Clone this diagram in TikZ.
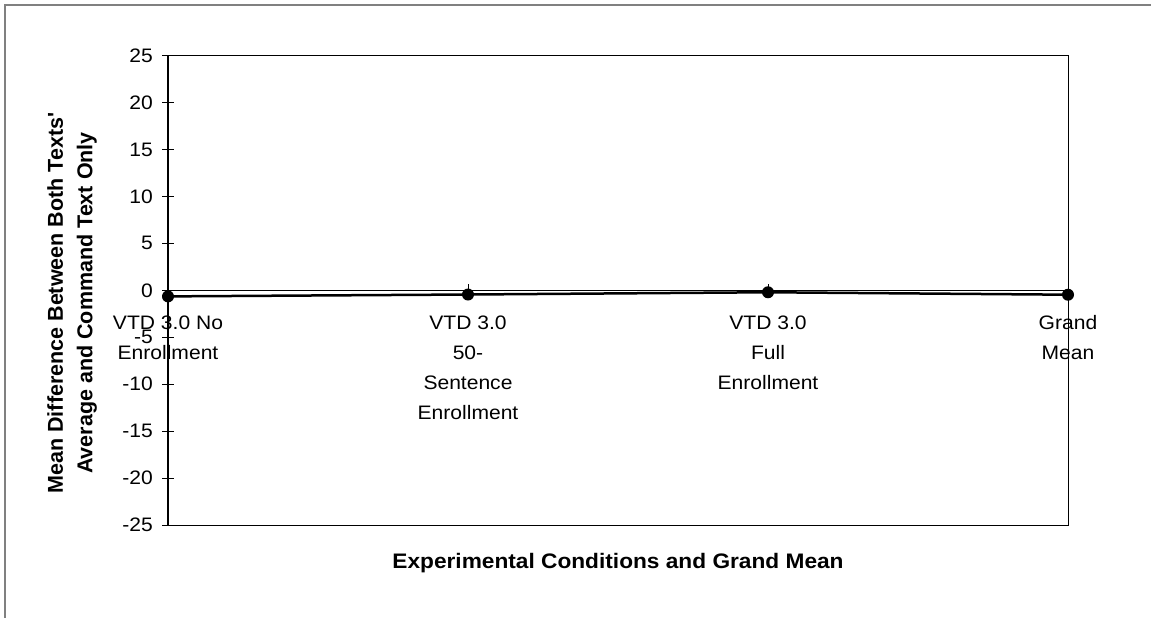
\documentclass[tikz,border=0pt]{standalone}
\usepackage{fontspec}
\setmainfont[FakeStretch=1.08]{Liberation Sans}
\newfontfamily\uprightsans{Liberation Sans}
\begin{document}
\begin{tikzpicture}[x=1pt,y=1pt,
  every node/.style={inner sep=0pt},
  ticklabel/.style={anchor=east, font=\fontsize{19.5}{30}\selectfont},
  catlabel/.style={anchor=north, align=center, font=\fontsize{19.5}{30}\selectfont},
  axistitle/.style={align=center, font=\fontsize{21}{30}\selectfont\bfseries},
  datapt/.style={circle, fill=black, minimum size=12pt, inner sep=0pt},
  frameline/.style={draw=black!50, line width=2pt},
  plotframe/.style={draw=black, line width=1pt},
  serieslinestyle/.style={draw=black, line width=2.5pt, line join=round}
]
\useasboundingbox (0,0) rectangle (1151,618);
% outer chart frame
\draw[frameline] (5,0) -- (5,613) -- (1151,613);

\begin{scope}[shift={(168,327.7)}, x=300pt, y=9.39pt]
  % plot area and axes
  \draw[plotframe] (0,-25) rectangle (3,25);
  \draw[line width=1.3pt] (0,-25) -- (0,25);
  \draw[line width=0.9pt] (0,0) -- (3,0);
  \foreach \v [count=\i] in {-25,-20,...,25} {
    \draw[line width=0.9pt] (0,\v) ++(-6pt,0) -- ++(12pt,0);
    \node[ticklabel] (ylab\i) at ([xshift=-15pt]0,\v) {\v};
  }
  \foreach \c in {1,2} {
    \draw[line width=0.9pt] (\c,0) ++(0,-6pt) -- ++(0,12pt);
  }
  % category labels
  \node[catlabel] (cat0) at ([yshift=-25pt]0,0) {VTD 3.0 No\\Enrollment};
  \node[catlabel] (cat1) at ([yshift=-25pt]1,0) {VTD 3.0\\50-\\Sentence\\Enrollment};
  \node[catlabel] (cat2) at ([yshift=-25pt]2,0) {VTD 3.0\\Full\\Enrollment};
  \node[catlabel] (cat3) at ([yshift=-25pt]3,0) {Grand\\Mean};
  % data series
  \node[datapt] (p0) at (0,-0.65) {};
  \node[datapt] (p1) at (1,-0.45) {};
  \node[datapt] (p2) at (2,-0.21) {};
  \node[datapt] (p3) at (3,-0.47) {};
  \draw[serieslinestyle] (p0.center) -- (p1.center) -- (p2.center) -- (p3.center);
\end{scope}

% axis titles
\node[axistitle, font=\fontsize{21.5}{29.5}\selectfont\uprightsans\bfseries, rotate=90] (ytitle) at (72,315)
  {Mean Difference Between Both Texts\textquotesingle\\Average and Command Text Only};
\node[axistitle, anchor=base] (xtitle) at (618,49) {Experimental Conditions and Grand Mean};
\end{tikzpicture}
\end{document}
